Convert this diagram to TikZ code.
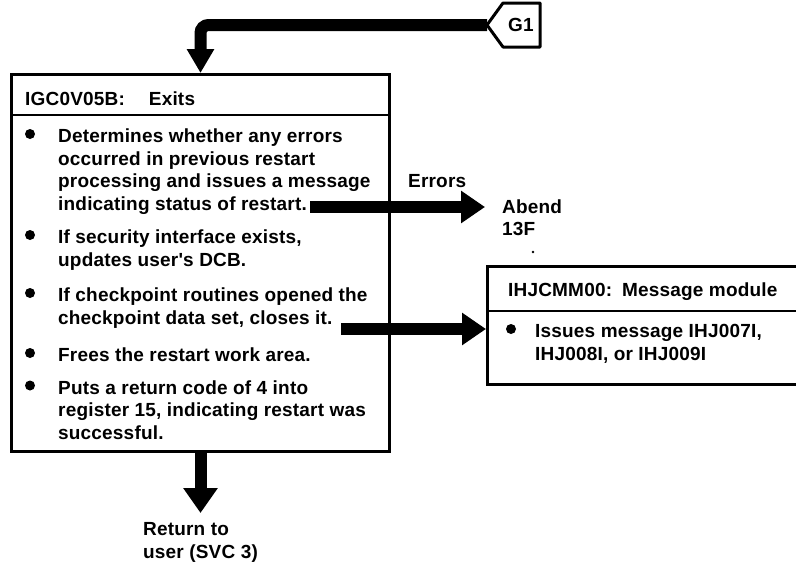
\documentclass[tikz,border=0pt]{standalone}
\usepackage{fontspec}
\newfontfamily\chartfont[LetterSpace=1]{Liberation Sans}
\usetikzlibrary{arrows.meta}

\begin{document}
\begin{tikzpicture}[x=1pt,y=-1pt,
  font=\chartfont\bfseries\fontsize{19}{22.5}\selectfont,
  txt/.style={anchor=base west, inner sep=0pt},
  boxframe/.style={draw, line width=3pt, inner sep=0pt, anchor=north west},
  rule/.style={line width=2.6pt},
  flow/.style={line width=12pt, -{Triangle[length=24pt,width=31pt]}},
  bul/.style={circle, fill, inner sep=0pt, minimum size=10pt}]

\useasboundingbox (0,0) rectangle (796,563);
\clip (0,0) rectangle (796,563);

% ---------- off-page connector G1 ----------
\node (g1) at (521,25) {G1};
\coordinate (g1tip) at (487,25);
\draw[line width=3pt, line join=round] (g1tip) -- (503,3) -- (540,3) -- (540,47) -- (503,47) -- cycle;

% ---------- IGC0V05B box ----------
\node[boxframe, minimum width=378pt, minimum height=377pt] (main) at (10,73) {};
\draw[rule] (10,115) -- (388,115);
\node[txt] (mainhead) at (25,105) {IGC0V05B:\hspace{24pt}Exits};

\node[bul] (b1) at (30,134) {};
\node[txt] (p1a) at (58,142.5) {Determines whether any errors};
\node[txt] (p1b) at (58,165) {occurred in previous restart};
\node[txt] (p1c) at (58,187.5) {processing and issues a message};
\node[txt] (p1d) at (58,210) {indicating status of restart.};

\node[bul] (b2) at (30,235) {};
\node[txt] (p2a) at (58,243.5) {If security interface exists,};
\node[txt] (p2b) at (58,266) {updates user's DCB.};

\node[bul] (b3) at (30,293) {};
\node[txt] (p3a) at (58,301.5) {If checkpoint routines opened the};
\node[txt] (p3b) at (58,324) {checkpoint data set, closes it.};

\node[bul] (b4) at (30,353) {};
\node[txt] (p4a) at (58,361.5) {Frees the restart work area.};

\node[bul] (b5) at (30,385.5) {};
\node[txt] (p5a) at (58,394) {Puts a return code of 4 into};
\node[txt] (p5b) at (58,416.5) {register 15, indicating restart was};
\node[txt] (p5c) at (58,439) {successful.};

% ---------- IHJCMM00 box ----------
\node[boxframe, minimum width=340pt, minimum height=118pt] (msg) at (486,265) {};
\draw[rule] (486,311) -- (800,311);
\node[txt] (msghead) at (508,296) {IHJCMM00:\hspace{10pt}Message module};
\node[bul] (b6) at (511,329) {};
\node[txt] (m1a) at (535,337.5) {Issues message IHJ007I,};
\node[txt] (m1b) at (535,360) {IHJ008I, or IHJ009I};

% ---------- labels ----------
\node[txt] (errlbl) at (408,187) {Errors};
\node[txt] (abend) at (502,213) {Abend};
\node[txt] (abendcode) at (502,235) {13F};
\fill (533,252) circle (1.3pt);
\node[txt] (ret1) at (143,535) {Return to};
\node[txt] (ret2) at (143,558) {user (SVC 3)};

% ---------- connectors ----------
\draw[flow, -{Triangle[length=24pt,width=26pt]}, rounded corners=8pt] (g1tip) -| (main.north);

\coordinate (errout) at (310,207);
\coordinate (errin) at (485,207);
\draw[flow] (errout) -- (errin);

\coordinate (msgout) at (341,329);
\draw[flow] (msgout) -- (msg.west |- msgout);

\coordinate (retin) at (main.south |- 0,513);
\draw[flow, -{Triangle[length=25pt,width=33pt]}] (main.south) -- (retin);
\end{tikzpicture}
\end{document}
